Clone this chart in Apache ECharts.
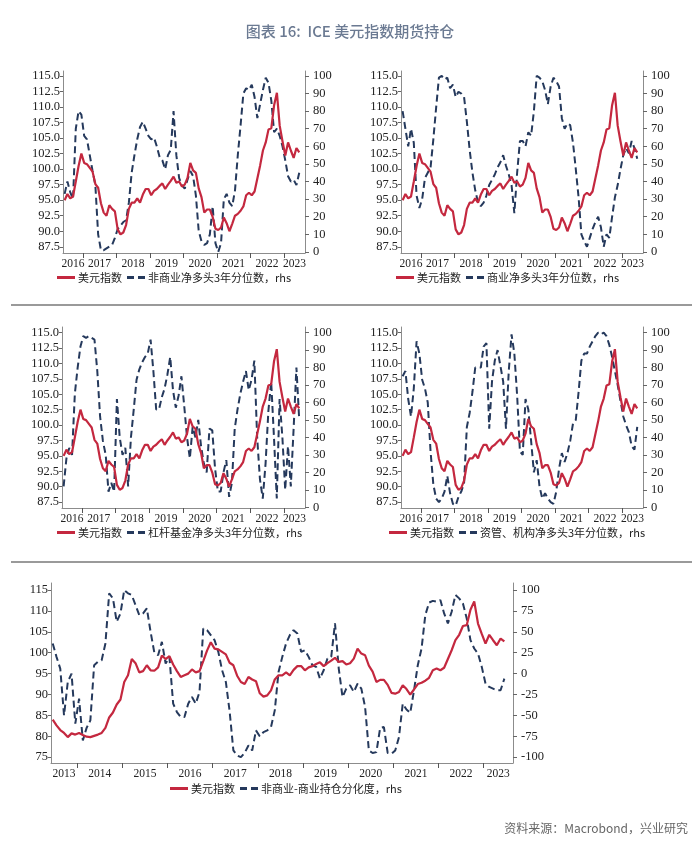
<!DOCTYPE html>
<html><head><meta charset="utf-8">
<script src="https://cdn.jsdelivr.net/npm/echarts@6/dist/echarts.min.js"></script>
<style>html,body{margin:0;padding:0;background:#fff}#c{width:700px;height:859px}</style>
</head><body><div id="c"></div>
<script>
// ---- DATA ----
// US Dollar Index, monthly, Jun 2013 .. Jun 2023
const dxy = [
  84.0, 82.6, 81.5, 80.8, 79.8, 80.7, 80.4,
  80.8, 80.3, 79.9, 79.8, 80.1, 80.4, 80.8, 82.0, 84.5, 85.7, 87.6, 88.8,
  93.0, 94.6, 98.5, 97.5, 95.3, 95.6, 97.0, 95.8, 95.7, 96.5, 99.3, 98.5,
  99.2, 97.2, 95.6, 94.2, 94.6, 95.0, 96.0, 95.3, 95.6, 98.0, 100.5, 102.5,
  101.0, 100.8, 100.2, 99.6, 97.6, 97.0, 94.5, 93.0, 92.5, 94.2, 93.6, 93.2,
  90.3, 89.5, 89.8, 91.0, 93.6, 94.6, 94.6, 95.3, 94.6, 95.9, 96.8, 96.8,
  95.8, 96.5, 96.8, 97.3, 97.7, 96.8, 97.5, 98.1, 98.8, 97.8, 98.0, 97.2,
  97.5, 98.6, 101.0, 99.8, 99.4, 96.9, 95.5, 93.0, 93.5, 93.5, 92.3, 90.4,
  90.2, 90.6, 92.2, 91.3, 90.0, 91.2, 92.5, 92.8, 93.3, 94.0, 95.8, 96.2,
  95.8, 96.4, 98.5, 100.6, 103.0, 104.3, 106.4, 106.6, 110.3, 112.3, 107.0, 104.5,
  102.2, 104.3, 103.0, 101.8, 103.4, 102.7
];
// Non-commercial minus commercial positioning divergence, monthly, Jun 2013 .. Jun 2023
const divergence = [
  36, 20, 6, -50, -10, 0, -60,
  -30, -80, -65, -56, 10, 14, 16, 36, 96, 90, 62, 72,
  100, 96, 94, 82, 70, 72, 78, 50, 25, 22, 38, 12,
  20, -36, -46, -52, -52, -36, -28, -36, -22, 54, 52, 46,
  40, 26, 4, -10, -45, -92, -98, -100, -95, -86, -92, -68,
  -75, -70, -68, -64, -44, 2, 20, 36, 46, 52, 48, 26,
  28, 20, 10, 8, -6, 4, 18, 20, 60, 6, -28, -18,
  -14, -22, -12, -18, -40, -92, -95, -94, -65, -64, -95, -96,
  -92, -76, -36, -43, -47, -20, 10, 30, 70, 85, 87, 86,
  88, 72, 60, 74, 94, 90, 84, 66, 40, 30, 24, 8,
  -12, -16, -18, -20, -20, -6
];
// 3-year percentiles, monthly, Jun 2016 .. Jun 2023
const nonCommercial = [
  33, 40, 34, 30, 70, 80, 78,
  66, 64, 55, 46, 38, 10, 1, 1, 2, 3, 4, 8,
  13, 15, 17, 18, 28, 45, 55, 64, 71, 74, 70, 66,
  64, 65, 60, 54, 52, 47, 55, 58, 80, 55, 42, 38,
  36, 41, 46, 43, 32, 12, 6, 4, 5, 10, 26, 5,
  0, 5, 30, 33, 28, 26, 35, 55, 72, 90, 93, 92,
  95, 88, 76, 84, 92, 99, 96, 86, 68, 70, 66, 60,
  52, 43, 40, 41, 38, 45
];
const commercial = [
  80, 70, 60, 70, 62, 32, 25,
  30, 42, 45, 48, 64, 82, 99, 100, 98, 99, 93, 95,
  88, 91, 90, 88, 74, 58, 45, 35, 28, 26, 28, 32,
  38, 41, 44, 48, 51, 55, 49, 44, 38, 22, 45, 63,
  63, 60, 68, 66, 80, 100, 99, 97, 92, 84, 94, 99,
  97, 94, 76, 70, 73, 72, 62, 47, 31, 10, 6, 3,
  8, 13, 17, 20, 14, 3, 10, 8, 20, 31, 38, 47,
  55, 59, 56, 63, 59, 53
];
const leveraged = [
  12, 28, 34, 30, 65, 80, 92,
  98, 97, 98, 97, 96, 78, 52, 38, 30, 9, 14, 9,
  62, 40, 30, 34, 12, 40, 56, 73, 79, 83, 86, 88,
  96, 78, 56, 56, 63, 68, 76, 86, 67, 57, 64, 75,
  58, 40, 28, 46, 40, 50, 35, 25, 20, 45, 44, 22,
  9, 9, 20, 27, 6, 14, 45, 56, 65, 72, 78, 67,
  73, 84, 40, 16, 5, 25, 55, 72, 40, 5, 62, 40,
  10, 35, 12, 45, 80, 50
];
const assetMgr = [
  75, 78, 62, 52, 68, 95, 88,
  73, 68, 60, 32, 13, 5, 3, 5, 9, 18, 8, 2,
  1, 6, 9, 14, 46, 54, 66, 80, 80, 80, 92, 94,
  45, 72, 84, 90, 81, 72, 45, 78, 99, 88, 64, 32,
  30, 62, 56, 38, 20, 27, 12, 5, 8, 5, 3, 2,
  9, 22, 31, 26, 31, 38, 48, 50, 66, 84, 88, 88,
  92, 95, 98, 100, 99, 100, 98, 93, 86, 78, 70, 61,
  52, 47, 43, 35, 33, 46
];
const leftTicksTop = [87.5, 90, 92.5, 95, 97.5, 100, 102.5, 105, 107.5, 110, 112.5, 115];
const rightTicksTop = [0, 10, 20, 30, 40, 50, 60, 70, 80, 90, 100];
const leftTicksBot = [75, 80, 85, 90, 95, 100, 105, 110, 115];
const rightTicksBot = [-100, -75, -50, -25, 0, 25, 50, 75, 100];
const yearTicksTop = [2017, 2018, 2019, 2020, 2021, 2022, 2023];
const yearTicksBot = [2014, 2015, 2016, 2017, 2018, 2019, 2020, 2021, 2022, 2023];

const nameDxy = '美元指数';
const panelNames = ['非商业净多头3年分位数，rhs', '商业净多头3年分位数，rhs', '杠杆基金净多头3年分位数，rhs', '资管、机构净多头3年分位数，rhs'];
const panelSeries = [nonCommercial, commercial, leveraged, assetMgr];
const nameBottom = '非商业-商业持仓分化度，rhs';

// ---- BUILD ----
function pairs(arr, y0, m0) { return arr.map((v, i) => [y0 + (m0 - 1 + i + 0.5) / 12, v]); }
const dxyAll = pairs(dxy, 2013, 6);
const dxyTop = dxyAll.slice(36);

const RED = '#c4283f', NAVY = '#25395c', AXIS = '#8c8c8c';
const SERIF = 'Liberation Serif';
const CJK = 'Noto Sans CJK SC';
const ICON_SOLID = 'path://M0,0H18V3H0Z';
const ICON_DASH = 'path://M0,0H7V3H0Z M11,0H18V3H11Z';

const topX = [2016.41, 2023.63], botX = [2013.42, 2023.65];
function labelCenters(range, ticks) {
  const b = [range[0]].concat(ticks).concat([range[1]]);
  const out = [];
  for (let i = 0; i < b.length - 1; i++) out.push((b[i] + b[i + 1]) / 2);
  return out;
}

const grids = [
  {left: 63, top: 71, width: 242, height: 182},
  {left: 401, top: 71, width: 242, height: 182},
  {left: 62, top: 327, width: 243, height: 181},
  {left: 401, top: 327, width: 242, height: 181},
  {left: 51, top: 583, width: 462, height: 180}
];
const xAxes = [], yAxes = [], series = [], legends = [];
function mkX(gi, range, ticks) {
  xAxes.push({
    type: 'value', gridIndex: gi, min: range[0], max: range[1],
    axisLine: {show: true, onZero: false, lineStyle: {color: AXIS, width: 1}},
    axisTick: {show: true, customValues: ticks, length: 5, lineStyle: {color: '#555'}},
    axisLabel: {customValues: labelCenters(range, ticks), formatter: v => String(Math.floor(v + 1e-6)),
      fontFamily: SERIF, fontSize: 11.5, color: '#222', margin: 5},
    splitLine: {show: false}
  });
}
function mkY(gi, pos, range, ticks, fmt, tickLen) {
  yAxes.push({
    type: 'value', gridIndex: gi, position: pos, min: range[0], max: range[1],
    axisLine: {show: true, onZero: false, lineStyle: {color: AXIS, width: 1}},
    axisTick: {show: true, customValues: ticks, length: tickLen, lineStyle: {color: '#666'}},
    axisLabel: {customValues: ticks, formatter: fmt, fontFamily: SERIF, fontSize: 12.5, color: '#222', margin: pos === 'left' ? 3 : 8},
    splitLine: {show: false}
  });
}
const f1 = v => v.toFixed(1), f0 = v => String(Math.round(v));
for (let p = 0; p < 4; p++) {
  mkX(p, topX, yearTicksTop);
  const lr = p < 2 ? [86.5, 115.8] : [86.55, 115.9];
  const rr = p < 2 ? [-0.6, 102.8] : [-0.4, 103.2];
  mkY(p, 'left', lr, leftTicksTop, f1, 3);
  mkY(p, 'right', rr, rightTicksTop, f0, 4);
  series.push({name: panelNames[p], type: 'line', xAxisIndex: p, yAxisIndex: 2 * p + 1,
    data: pairs(panelSeries[p], 2016, 6), symbol: 'none', z: 2,
    lineStyle: {color: NAVY, width: 2, type: [7, 4]}, itemStyle: {color: NAVY}});
  series.push({name: nameDxy, type: 'line', xAxisIndex: p, yAxisIndex: 2 * p,
    data: dxyTop, symbol: 'none', z: 3,
    lineStyle: {color: RED, width: 2.2}, itemStyle: {color: RED}});
}
mkX(4, botX, yearTicksBot);
mkY(4, 'left', [73.6, 116.7], leftTicksBot, f0, 3);
mkY(4, 'right', [-107, 108.4], rightTicksBot, f0, 4);
series.push({name: nameBottom, type: 'line', xAxisIndex: 4, yAxisIndex: 9,
  data: pairs(divergence, 2013, 6), symbol: 'none', z: 2,
  lineStyle: {color: NAVY, width: 2, type: [7, 4]}, itemStyle: {color: NAVY}});
series.push({name: nameDxy, type: 'line', xAxisIndex: 4, yAxisIndex: 8,
  data: dxyAll, symbol: 'none', z: 3,
  lineStyle: {color: RED, width: 2.2}, itemStyle: {color: RED}});

const legendPos = [[57, 272], [396, 272], [57, 527], [389, 527], [170, 783]];
const legendNames = panelNames.concat([nameBottom]);
for (let i = 0; i < 5; i++) {
  legends.push({
    data: [{name: nameDxy, icon: ICON_SOLID}, {name: legendNames[i], icon: ICON_DASH}],
    left: legendPos[i][0], top: legendPos[i][1],
    itemWidth: 18, itemHeight: 10, itemGap: 5, padding: 0, selectedMode: false,
    textStyle: {fontFamily: CJK, fontSize: 11, color: '#222', padding: [0, 0, 0, -2]}
  });
}

const chart = echarts.init(document.getElementById('c'), null, {renderer: 'canvas'});
chart.setOption({
  animation: false,
  backgroundColor: '#fff',
  title: {text: '图表 16:  ICE 美元指数期货持仓', left: 'center', top: 19,
    textStyle: {fontFamily: CJK, fontSize: 15, fontWeight: 500, color: '#6b7a92'}},
  grid: grids, xAxis: xAxes, yAxis: yAxes, series: series, legend: legends,
  graphic: [
    {type: 'line', shape: {x1: 11, y1: 305, x2: 692, y2: 305}, style: {stroke: '#9a9a9a', lineWidth: 2}},
    {type: 'line', shape: {x1: 11, y1: 562, x2: 692, y2: 562}, style: {stroke: '#9a9a9a', lineWidth: 2}},
    {type: 'text', right: 12, top: 822, style: {text: '资料来源：Macrobond，兴业研究', font: '12px "Noto Sans CJK SC"', fill: '#666'}}
  ]
});
</script></body></html>
